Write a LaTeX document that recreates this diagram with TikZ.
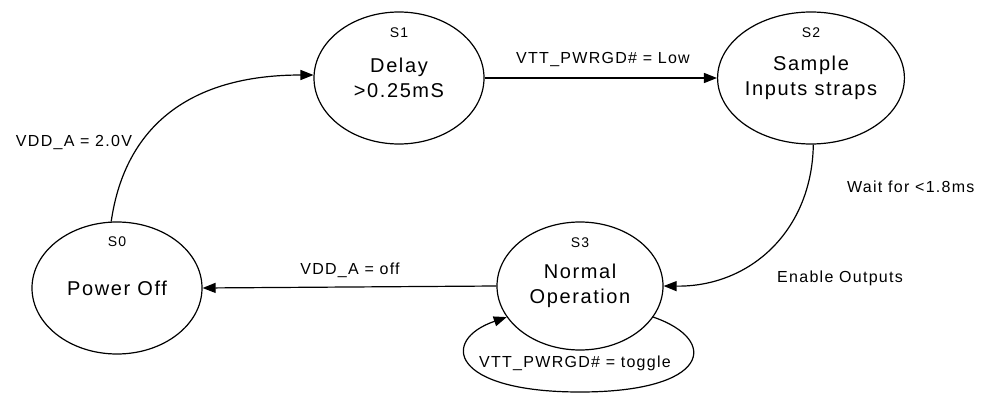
\documentclass[tikz,border=0pt]{standalone}
\usepackage{fontspec}
\setmainfont{Liberation Sans}[LetterSpace=8]
\usetikzlibrary{shapes.geometric,arrows.meta}
\tikzset{
  state/.style={draw, ellipse, line width=1.2pt, minimum width=170pt, minimum height=132pt, inner sep=0pt, align=center, font=\fontsize{20}{25}\selectfont},
  sname/.style={font=\fontsize{14}{16}\selectfont, inner sep=0pt},
  elabel/.style={font=\fontsize{16}{19}\selectfont, inner sep=0pt},
  conn/.style={line width=1.2pt, -{Triangle[length=13pt,width=10pt]}}
}
\begin{document}
\begin{tikzpicture}[x=1pt,y=1pt]
\useasboundingbox (0,0) rectangle (982,394);
% states
\node[state] (s0) at (117,106) {Power Off};
\node[state] (s1) at (399,316) {Delay\\>0.25mS};
\node[state] (s2) at (811,316) {Sample\\Inputs straps};
\node[state, minimum width=166pt, minimum height=128pt] (s3) at (580,108) {Normal\\Operation};
\node[sname] (n0) at (117,152) {S0};
\node[sname] (n1) at (399,361) {S1};
\node[sname] (n2) at (811,361) {S2};
\node[sname] (n3) at (580,151) {S3};
% connectors
\draw[conn] (s0.95) .. controls (125,268) and (190,319) .. (s1.178);
\draw[conn] (s1.east) -- (s2.west);
\draw[conn] (s2.272) .. controls (812,164) and (751,107) .. (s3.east);
\draw[conn] (s3.west) -- (s0.east);
\coordinate (lb) at (580,2);
\draw[conn] (s3.-23) .. controls (720,54) and (710,2) .. (lb) .. controls (450,2) and (440,54) .. (s3.203);
% labels
\node[elabel] (l01) at (74,251) {VDD\_A = 2.0V};
\node[elabel] (l12) at (603,334) {VTT\_PWRGD\# = Low};
\node[elabel, anchor=west] (l23a) at (847,207) {Wait for <1.8ms};
\node[elabel, anchor=west] (l23b) at (777,116) {Enable Outputs};
\node[elabel] (l30) at (350,124) {VDD\_A = off};
\node[elabel] (l33) at (575,31) {VTT\_PWRGD\# = toggle};
\end{tikzpicture}
\end{document}
